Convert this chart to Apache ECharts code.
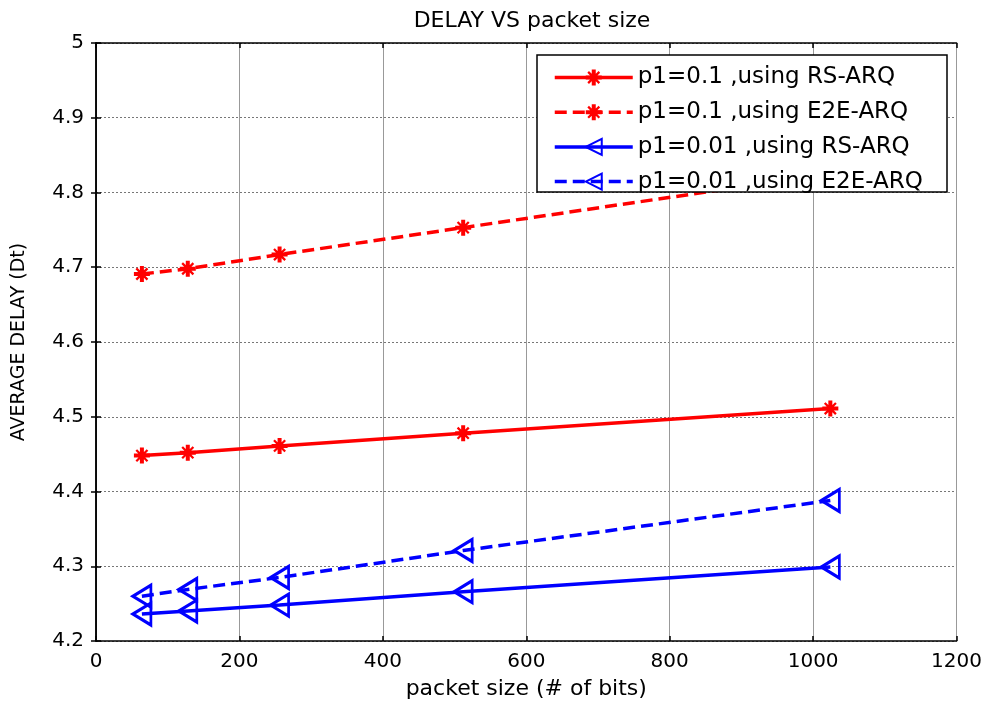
<!DOCTYPE html>
<html>
<head>
<meta charset="utf-8">
<script src="https://cdn.jsdelivr.net/npm/echarts@6/dist/echarts.min.js"></script>
<style>html,body{margin:0;padding:0;background:#fff;}#c{width:985px;height:709px;}</style>
</head>
<body>
<div id="c"></div>
<script>
var packetSizes = [64, 128, 256, 512, 1024];
var redRS = [4.448, 4.452, 4.461, 4.478, 4.511];
var redE2E = [4.691, 4.698, 4.717, 4.753, 4.825];
var blueRS = [4.236, 4.240, 4.248, 4.266, 4.299];
var blueE2E = [4.260, 4.269, 4.285, 4.321, 4.388];
var seriesNames = ['p1=0.1 ,using RS-ARQ', 'p1=0.1 ,using E2E-ARQ', 'p1=0.01 ,using RS-ARQ', 'p1=0.01 ,using E2E-ARQ'];
var titleText = 'DELAY VS packet size';
var xName = 'packet size (# of bits)';
var yName = 'AVERAGE DELAY (Dt)';

function pairs(ys){ return packetSizes.map(function(x,i){ return [x, ys[i]]; }); }

var FONT = "'DejaVu Sans', sans-serif";
var star = 'path://M0,7.5 L20,7.5 L20,12.5 L0,12.5 Z M7.5,0 L12.5,0 L12.5,20 L7.5,20 Z M2,4 L4,2 L18,16 L16,18 Z M16,2 L18,4 L4,18 L2,16 Z M10,3 L17,10 L10,17 L3,10 Z';

function redSeries(name, data, dashed){
  return {
    name: name, type: 'line', data: pairs(data),
    symbol: star, symbolSize: 16,
    lineStyle: { color: '#ff0000', width: 3.5, type: dashed ? [12, 6] : 'solid' },
    itemStyle: { color: '#ff0000' },
    z: 3
  };
}
function blueSeries(name, data, dashed){
  return {
    name: name, type: 'line', data: pairs(data),
    symbol: 'triangle', symbolRotate: 90, symbolSize: [22, 18],
    lineStyle: { color: '#0000ff', width: 3.5, type: dashed ? [12, 6] : 'solid' },
    itemStyle: { color: 'rgba(0,0,0,0)', borderColor: '#0000ff', borderWidth: 3 },
    z: 3
  };
}

var chart = echarts.init(document.getElementById('c'));
var axisLineStyle = { show: true, lineStyle: { color: '#000', width: 1.5 } };
var tick = { show: true, inside: true, length: 5, lineStyle: { color: '#000', width: 1.5 } };
var fmtY = function(v){ return (Math.round(v * 10) / 10).toString(); };
var fmtX = function(v){ return String(Math.round(v)); };

chart.setOption({
  backgroundColor: '#fff',
  animation: false,
  title: {
    text: titleText, left: 527, textAlign: 'center', top: 5,
    textStyle: { fontFamily: FONT, fontSize: 22, fontWeight: 'normal', color: '#000' }
  },
  grid: { left: 96, right: 27, top: 43, bottom: 68 },
  xAxis: [{
    type: 'value', min: 0, max: 1200, interval: 200, position: 'bottom',
    axisLine: axisLineStyle, axisTick: tick,
    axisLabel: { color: '#000', fontFamily: FONT, fontSize: 20, margin: 11, formatter: fmtX },
    splitLine: { show: true, lineStyle: { color: '#999', width: 1, type: 'solid' } },
    name: xName, nameLocation: 'middle', nameGap: 37,
    nameTextStyle: { fontFamily: FONT, fontSize: 22, color: '#000' }
  }, {
    type: 'value', min: 0, max: 1200, interval: 200, position: 'top',
    axisLine: axisLineStyle, axisTick: tick, axisLabel: { show: false },
    splitLine: { show: false }
  }],
  yAxis: [{
    type: 'value', min: 4.2, max: 5, interval: 0.1, position: 'left',
    axisLine: axisLineStyle, axisTick: tick,
    axisLabel: { color: '#000', fontFamily: FONT, fontSize: 20, margin: 12, formatter: fmtY },
    splitLine: { show: true, lineStyle: { color: '#777', width: 1, type: [2, 2] } },
    name: yName, nameLocation: 'middle', nameGap: 67,
    nameTextStyle: { fontFamily: FONT, fontSize: 19, color: '#000' }
  }, {
    type: 'value', min: 4.2, max: 5, interval: 0.1, position: 'right',
    axisLine: axisLineStyle, axisTick: tick, axisLabel: { show: false },
    splitLine: { show: false }
  }],
  graphic: [{
    type: 'rect', z: 10,
    shape: { x: 537, y: 55, width: 410, height: 137 },
    style: { fill: '#fff', stroke: '#000', lineWidth: 1.5 }
  }],
  legend: {
    orient: 'vertical', left: 537, top: 55, z: 20,
    padding: [11, 10, 10, 16],
    itemWidth: 78, itemHeight: 20, itemGap: 11.7,
    lineStyle: { width: 3.5 },
    textStyle: { fontFamily: FONT, fontSize: 23, color: '#000' },
    data: seriesNames
  },
  series: [
    redSeries(seriesNames[0], redRS, false),
    redSeries(seriesNames[1], redE2E, true),
    blueSeries(seriesNames[2], blueRS, false),
    blueSeries(seriesNames[3], blueE2E, true)
  ]
});
</script>
</body>
</html>
